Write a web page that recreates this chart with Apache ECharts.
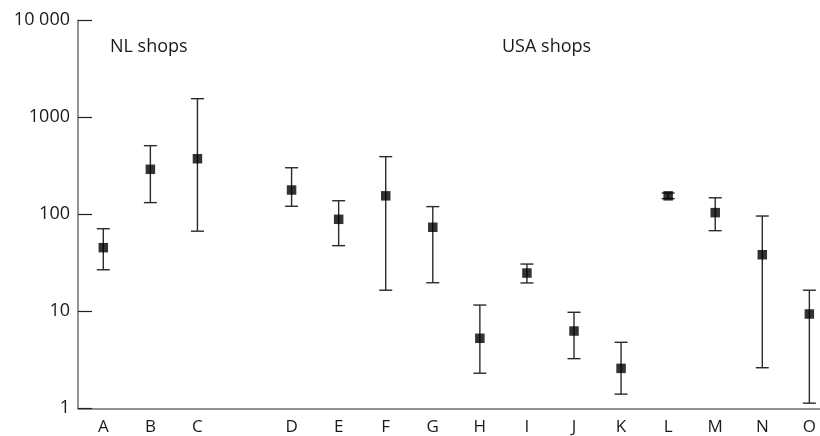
<!DOCTYPE html>
<html>
<head>
<meta charset="utf-8">
<script src="https://cdn.jsdelivr.net/npm/echarts@6/dist/echarts.min.js"></script>
<style>
html,body{margin:0;padding:0;background:#fff;}
#main{width:820px;height:436px;}
</style>
</head>
<body>
<div id="main"></div>
<script>
// Categories (empty slot separates NL shops from USA shops)
var categories = ['A', 'B', 'C', '', 'D', 'E', 'F', 'G', 'H', 'I', 'J', 'K', 'L', 'M', 'N', 'O'];
// Central values
var centralValues = [45.3, 291, 374, null, 178, 88.8, 155, 73.5, 5.27, 24.8, 6.26, 2.58, 155, 104, 38.3, 9.38];
// Lower error limits
var lowerValues = [26.8, 132, 67, null, 121, 47.5, 16.5, 19.7, 2.3, 19.6, 3.25, 1.40, 145, 67.8, 2.62, 1.13];
// Upper error limits
var upperValues = [71, 510, 1556, null, 302, 138, 393, 120, 11.6, 30.7, 9.77, 4.79, 166, 148, 96, 16.5];
// Y tick labels
var yTickLabels = {1: '1', 10: '10', 100: '100', 1000: '1000', 10000: '10 000'};
var groupLabels = ['NL shops', 'USA shops'];

var pointData = [];
var errorData = [];
var labelPositions = [];
for (var i = 0; i < categories.length; i++) {
  if (centralValues[i] == null) continue;
  labelPositions.push(i);
  pointData.push([i, centralValues[i]]);
  errorData.push([i, lowerValues[i], upperValues[i]]);
}

var FONT = '"Open Sans", sans-serif';
var chart = echarts.init(document.getElementById('main'));
chart.setOption({
  animation: false,
  backgroundColor: '#ffffff',
  grid: {left: 78, right: 0, top: 20.3, bottom: 27.7, containLabel: false},
  xAxis: {
    type: 'value',
    min: -0.5375,
    max: 15.226,
    axisLine: {onZero: false, lineStyle: {color: '#6e6e6e', width: 1.5}},
    axisTick: {show: false},
    axisLabel: {
      color: '#1a1a1a', fontSize: 17, fontFamily: FONT, margin: 10,
      customValues: labelPositions,
      formatter: function (v) { return categories[Math.round(v)] || ''; }
    },
    splitLine: {show: false}
  },
  yAxis: {
    type: 'log',
    logBase: 10,
    min: 1,
    max: 10000,
    axisLine: {show: true, onZero: false, lineStyle: {color: '#6e6e6e', width: 1.5}},
    axisTick: {show: true, inside: true, length: 14, lineStyle: {color: '#222', width: 1.2}},
    minorTick: {show: false},
    axisLabel: {
      color: '#1a1a1a', fontSize: 18, fontFamily: FONT, margin: 8,
      formatter: function (v) { return yTickLabels[Math.round(v)] || ''; }
    },
    splitLine: {show: false}
  },
  graphic: [
    {type: 'text', left: 110, top: 38, style: {text: groupLabels[0], fill: '#1a1a1a', font: '18px ' + FONT}},
    {type: 'text', left: 502, top: 38, style: {text: groupLabels[1], fill: '#1a1a1a', font: '18px ' + FONT}}
  ],
  series: [
    {
      type: 'custom',
      data: errorData,
      encode: {x: 0, y: [1, 2]},
      renderItem: function (params, api) {
        var x = api.value(0);
        var lo = api.coord([x, api.value(1)]);
        var hi = api.coord([x, api.value(2)]);
        var hw = 6.5;
        var style = {stroke: '#2a2a2a', lineWidth: 1.4, fill: null};
        return {
          type: 'group',
          children: [
            {type: 'line', shape: {x1: hi[0], y1: hi[1], x2: lo[0], y2: lo[1]}, style: style},
            {type: 'line', shape: {x1: hi[0] - hw, y1: hi[1], x2: hi[0] + hw, y2: hi[1]}, style: style},
            {type: 'line', shape: {x1: lo[0] - hw, y1: lo[1], x2: lo[0] + hw, y2: lo[1]}, style: style}
          ]
        };
      },
      z: 2
    },
    {
      type: 'scatter',
      data: pointData,
      symbol: 'rect',
      symbolSize: 9.5,
      itemStyle: {color: '#000000'},
      z: 3
    }
  ]
});
</script>
</body>
</html>
